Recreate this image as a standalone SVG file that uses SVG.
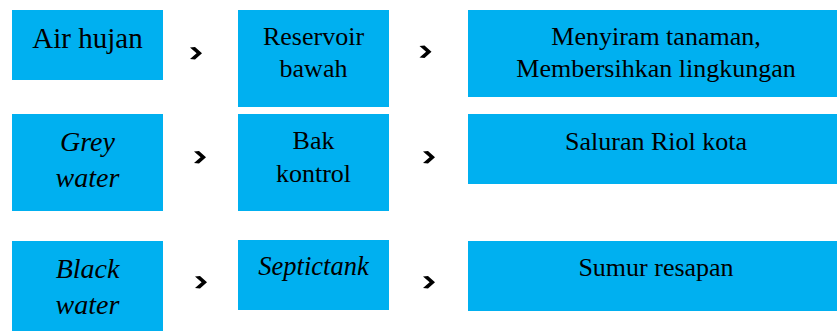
<svg xmlns="http://www.w3.org/2000/svg" xmlns:xlink="http://www.w3.org/1999/xlink" width="837" height="331" viewBox="0 0 837 331">
<style>
.box{fill:#00B0F0}
.t{font-family:"Liberation Serif","Times New Roman",serif;fill:#000;text-anchor:middle;font-size:26px}
.i{font-style:italic;font-size:28px}
.big{font-size:29px}
.chev{fill:#000}
</style>
<defs>
<polygon id="chev" class="chev" points="0,0.5 5,0 12,6.2 5,12.4 0,11.9 6.6,6.2"/>
</defs>
<rect width="837" height="331" fill="#fff"/>
<g id="air-hujan"><rect class="box" x="12" y="10" width="151" height="70"/><text class="t big" x="87.5" y="48">Air hujan</text></g>
<g id="reservoir"><rect class="box" x="238" y="10" width="151" height="97"/><text class="t" x="313.5" y="45">Reservoir</text><text class="t" x="313.5" y="77">bawah</text></g>
<g id="menyiram"><rect class="box" x="468" y="10" width="369" height="87"/><text class="t" x="656" y="45">Menyiram tanaman,</text><text class="t" x="656" y="77">Membersihkan lingkungan</text></g>
<g id="grey-water"><rect class="box" x="12" y="114" width="151" height="97"/><text class="t i" x="87.5" y="150.5">Grey</text><text class="t i" x="87.5" y="186.5">water</text></g>
<g id="bak-kontrol"><rect class="box" x="238" y="114" width="151" height="97"/><text class="t" x="313.5" y="148.5">Bak</text><text class="t" x="313.5" y="181.5">kontrol</text></g>
<g id="saluran"><rect class="box" x="468" y="114" width="369" height="70"/><text class="t" x="656" y="149.5">Saluran Riol kota</text></g>
<g id="black-water"><rect class="box" x="12" y="241" width="151" height="90"/><text class="t i" x="87.5" y="277.5">Black</text><text class="t i" x="87.5" y="313.5">water</text></g>
<g id="septictank"><rect class="box" x="238" y="240" width="151" height="70"/><text class="t i" x="313.5" y="274.5" style="font-size:26.5px">Septictank</text></g>
<g id="sumur"><rect class="box" x="468" y="241" width="369" height="70"/><text class="t" x="656" y="276">Sumur resapan</text></g>
<g id="connectors">
<use xlink:href="#chev" x="190" y="47"/>
<use xlink:href="#chev" x="419.5" y="45.5"/>
<use xlink:href="#chev" x="194" y="151"/>
<use xlink:href="#chev" x="423" y="151"/>
<use xlink:href="#chev" x="195" y="276"/>
<use xlink:href="#chev" x="423" y="276"/>
</g>
</svg>
